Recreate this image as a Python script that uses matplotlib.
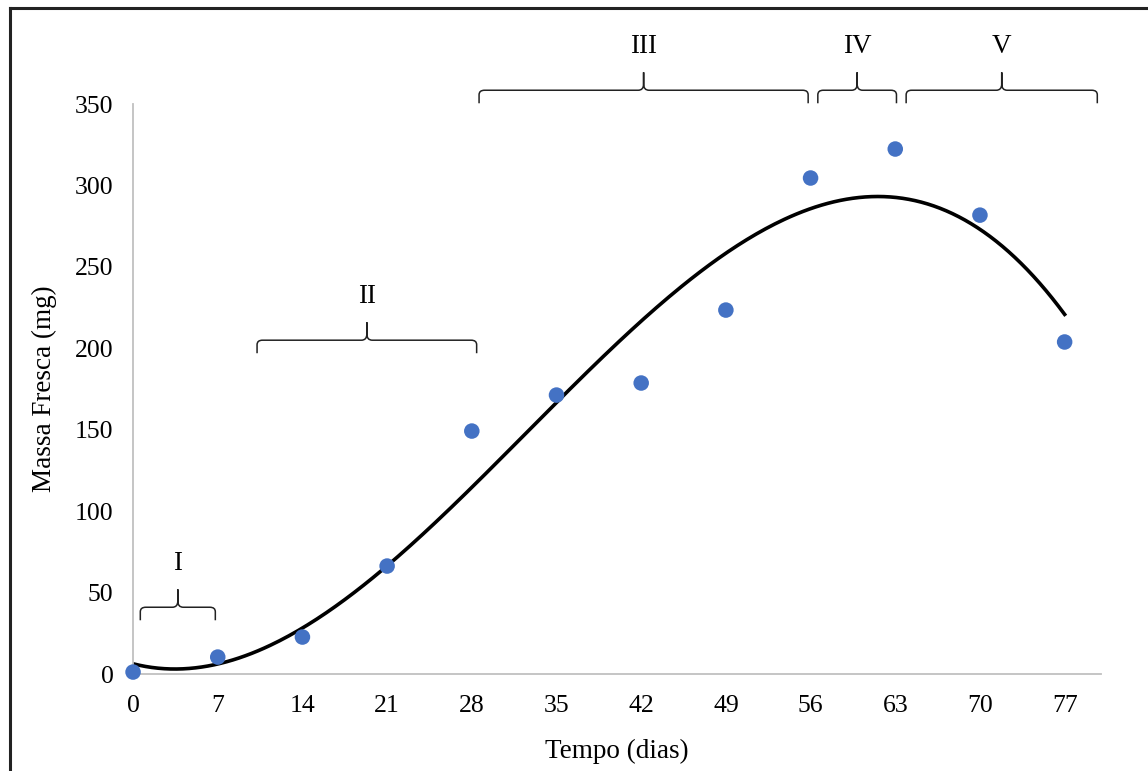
import numpy as np
import matplotlib
matplotlib.use("Agg")
import matplotlib.pyplot as plt
from matplotlib.path import Path
from matplotlib.patches import PathPatch

# data
dias = [0, 7, 14, 21, 28, 35, 42, 49, 56, 63, 70, 77]
massa = [1.2, 10.4, 22.7, 66.3, 149.2, 171.3, 178.7, 223.5, 304.6, 322.4, 281.8, 203.9]
x_ticks = [0, 7, 14, 21, 28, 35, 42, 49, 56, 63, 70, 77]
y_ticks = [0, 50, 100, 150, 200, 250, 300, 350]

# phases: label, left, right, brace baseline y
fases = ["I", "II", "III", "IV", "V"]
fase_left = [0.6, 10.25, 28.6, 56.6, 63.9]
fase_right = [6.8, 28.4, 55.8, 63.1, 79.7]
fase_y = [41, 205, 358.5, 358.5, 358.5]

plt.rcParams['font.family'] = ['Liberation Serif', 'DejaVu Serif']

fig = plt.figure(figsize=(11.48, 7.71), dpi=100)
ax = fig.add_axes([0.1159, 0.1258, 0.959 - 0.1159, 0.865 - 0.1258])

# trend line: cubic polynomial fit
coef = np.polyfit(dias, massa, 3)
xs = np.linspace(0, 77, 300)
ax.plot(xs, np.polyval(coef, xs), color='black', lw=2.6, zorder=2)

ax.scatter(dias, massa, s=125, color='#4472C4', zorder=3, edgecolors='none', clip_on=False)

ax.set_xlim(0, 80)
ax.set_ylim(0, 350)
ax.set_xticks(x_ticks)
ax.set_yticks(y_ticks)
ax.tick_params(length=0, labelsize=18.5, pad=15)
ax.tick_params(axis='y', pad=14)
for s in ['top', 'right']:
    ax.spines[s].set_visible(False)
for s in ['left', 'bottom']:
    ax.spines[s].set_color('#C0C0C0')
    ax.spines[s].set_linewidth(1.3)

ax.set_xlabel("Tempo (dias)", fontsize=19.5, labelpad=16)
ax.set_ylabel("Massa Fresca (mg)", fontsize=19.5, labelpad=13)

# braces
def brace(ax, x0, x1, y, h_end=8.0, h_tip=11.0, r=0.45):
    xc = (x0 + x1) / 2
    ry = h_end * 0.35
    verts = [
        (x0, y - h_end), (x0, y - ry), (x0, y), (x0 + r, y),
        (xc - r, y), (xc, y), (xc, y + h_tip * 0.35), (xc, y + h_tip),
        (xc, y + h_tip * 0.35), (xc, y), (xc + r, y),
        (x1 - r, y), (x1, y), (x1, y - ry), (x1, y - h_end),
    ]
    codes = [Path.MOVETO, Path.LINETO, Path.CURVE3, Path.CURVE3,
             Path.LINETO, Path.CURVE3, Path.CURVE3, Path.LINETO,
             Path.LINETO, Path.CURVE3, Path.CURVE3,
             Path.LINETO, Path.CURVE3, Path.CURVE3, Path.LINETO]
    p = PathPatch(Path(verts, codes), fill=False, lw=1.1, color='#222222', clip_on=False)
    ax.add_patch(p)
    return xc

for lab, l, r_, y in zip(fases, fase_left, fase_right, fase_y):
    xc = brace(ax, l, r_, y)
    ax.text(xc, y + 27, lab, ha='center', va='center', fontsize=19.5, clip_on=False)

# outer frame
fig.add_artist(plt.Line2D([0.0087, 1.0], [1 - 8 / 771, 1 - 8 / 771], color='#222222', lw=2.2,
                          transform=fig.transFigure))
fig.add_artist(plt.Line2D([0.0087, 0.0087], [0, 1 - 8 / 771], color='#222222', lw=2.2,
                          transform=fig.transFigure))

fig.savefig("out.png", dpi=100)
